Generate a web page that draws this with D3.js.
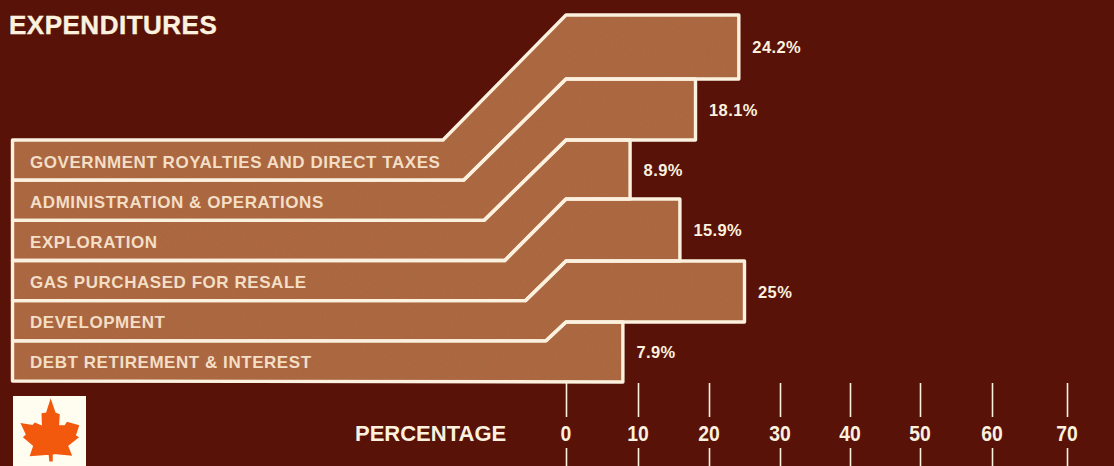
<!DOCTYPE html>
<html>
<head>
<meta charset="utf-8">
<script src="https://cdn.jsdelivr.net/npm/d3@7"></script>
<style>
  html, body { margin: 0; padding: 0; background: #581208; }
  svg { display: block; }
  text { font-family: "Liberation Sans", Arial, sans-serif; font-weight: 700; }
</style>
</head>
<body>
<svg id="chart" width="1114" height="466"></svg>
<script>
// Share of total spending by category, in percent
const categories = [
  "GOVERNMENT ROYALTIES AND DIRECT TAXES",
  "ADMINISTRATION & OPERATIONS",
  "EXPLORATION",
  "GAS PURCHASED FOR RESALE",
  "DEVELOPMENT",
  "DEBT RETIREMENT & INTEREST"
];
const shares = [24.2, 18.1, 8.9, 15.9, 25, 7.9];
const shareLabels = ["24.2%", "18.1%", "8.9%", "15.9%", "25%", "7.9%"];
const axisTicks = [0, 10, 20, 30, 40, 50, 60, 70];

const cream = "#fbf1de";
const labelInk = "#f4dec6";
const barFill = "#ad6743";
const leafFill = "#f2590d";

const svg = d3.select("#chart");

// Stippled print texture for the band fills
const defs = svg.append("defs");
const grain = defs.append("filter").attr("id", "grain")
  .attr("x", 0).attr("y", 0).attr("width", 1).attr("height", 1);
grain.append("feTurbulence").attr("type", "fractalNoise")
  .attr("baseFrequency", 0.5).attr("numOctaves", 2).attr("seed", 7).attr("result", "n");
grain.append("feColorMatrix").attr("in", "n").attr("type", "matrix")
  .attr("values", "0 0 0 0 0.36  0 0 0 0 0.14  0 0 0 0 0.05  0 0 0 1.4 -0.5").attr("result", "speck");
grain.append("feComposite").attr("in", "speck").attr("in2", "SourceGraphic")
  .attr("operator", "in").attr("result", "clipped");
const merge = grain.append("feMerge");
merge.append("feMergeNode").attr("in", "SourceGraphic");
merge.append("feMergeNode").attr("in", "clipped");

// Horizontal percentage scale; the printed ticks are hand-spaced
const x = d3.scaleLinear().domain(axisTicks)
  .range([566, 638, 709, 780, 850, 920, 992, 1067]);

// Labelled rows on the left, evenly spaced
const leftRows = d3.scaleBand().domain(categories).range([140, 381]);
// Band edges on the right of the bend, one stop per band boundary
const rightEdge = d3.scaleLinear().domain([0, 1, 2, 3, 4, 5, 6])
  .range([15, 79, 140, 199, 261, 322, 382]);
// Where each band's upper edge starts to climb
const bendStart = d3.scaleLinear().domain([0, 5]).range([443, 546]);
const leftX = 12.5;

const outline = d3.line();

function bandPoints(name, i) {
  const top = leftRows(name);
  const bottom = top + leftRows.bandwidth();
  const last = i === categories.length - 1;
  const pts = [
    [leftX, top],
    [bendStart(i), top],
    [x(0), rightEdge(i)],
    [x(shares[i]), rightEdge(i)],
    [x(shares[i]), rightEdge(i + 1)]
  ];
  if (!last) {
    pts.push([x(0), rightEdge(i + 1)], [bendStart(i + 1), bottom]);
  }
  pts.push([leftX, bottom]);
  return pts;
}

const bands = svg.append("g");
bands.selectAll("path.fill").data(categories).join("path")
  .attr("class", "fill")
  .attr("d", (d, i) => outline(bandPoints(d, i)) + "Z")
  .attr("fill", barFill)
  .attr("stroke", barFill)
  .attr("filter", "url(#grain)");
bands.selectAll("path.edge").data(categories).join("path")
  .attr("class", "edge")
  .attr("d", (d, i) => outline(bandPoints(d, i)) + "Z")
  .attr("fill", "none")
  .attr("stroke", cream)
  .attr("stroke-width", 3.4)
  .attr("stroke-linejoin", "round");

// Category names inside the left rows
svg.append("g").selectAll("text").data(categories).join("text")
  .attr("x", 30)
  .attr("y", d => leftRows(d) + leftRows.bandwidth() / 2 + 7.5)
  .attr("font-size", 17)
  .attr("letter-spacing", 0.55)
  .attr("fill", labelInk)
  .text(d => d);

// Value labels just past the end of each band
svg.append("g").selectAll("text").data(shareLabels).join("text")
  .attr("x", (d, i) => x(shares[i]) + 13.5)
  .attr("y", (d, i) => (rightEdge(i) + rightEdge(i + 1)) / 2 + 6.2)
  .attr("font-size", 16.5)
  .attr("letter-spacing", 0.4)
  .attr("fill", cream)
  .text(d => d);

svg.append("text")
  .attr("x", 9).attr("y", 34)
  .attr("font-size", 26)
  .attr("letter-spacing", 0.5)
  .attr("fill", cream)
  .attr("stroke", cream)
  .attr("stroke-width", 0.4)
  .text("EXPENDITURES");

// Axis: a tick above and below each number
const axis = svg.append("g");
const upper = d3.axisTop(x).tickValues(axisTicks).tickSize(34).tickSizeOuter(0).tickFormat("");
axis.append("g").attr("transform", "translate(0,417)").call(upper)
  .call(g => g.select(".domain").remove())
  .call(g => g.selectAll("line").attr("stroke", cream).attr("stroke-width", 1.6));
const lower = d3.axisBottom(x).tickValues(axisTicks).tickSize(18).tickSizeOuter(0).tickFormat("");
axis.append("g").attr("transform", "translate(0,448)").call(lower)
  .call(g => g.select(".domain").remove())
  .call(g => g.selectAll("line").attr("stroke", cream).attr("stroke-width", 1.6));
axis.append("g").selectAll("text").data(axisTicks).join("text")
  .attr("transform", d => `translate(${x(d)},441) scale(0.88,1)`)
  .attr("text-anchor", "middle")
  .attr("font-size", 22)
  .attr("fill", cream)
  .text(d => d);

svg.append("text")
  .attr("x", 355).attr("y", 441)
  .attr("font-size", 22)
  .attr("fill", cream)
  .text("PERCENTAGE");

// Maple leaf emblem on its white tile
const emblem = svg.append("g").attr("transform", "translate(13,396)");
emblem.append("rect").attr("width", 73).attr("height", 70).attr("fill", "#fffcf0");
const leafPoints = [
  [37.7, 4.7], [42, 17.3], [46, 18.7], [45.3, 29.7], [52, 30], [54.3, 26.7], [65.3, 29.7],
  [62, 39.7], [64.7, 41.3], [54.3, 49.7], [58, 59], [41, 57.3], [39, 58.3], [39, 64.7],
  [37, 64.7], [36.3, 58], [17.7, 59.3], [21, 49.7], [11, 41.3], [13.7, 38.7], [8.7, 28],
  [19.7, 29.7], [22, 27.3], [29.7, 30.7], [29.3, 18], [33.7, 17.3]
];
emblem.append("path").attr("d", d3.line()(leafPoints) + "Z")
  .attr("fill", leafFill).attr("stroke", leafFill).attr("stroke-width", 1.5);
</script>
</body>
</html>
